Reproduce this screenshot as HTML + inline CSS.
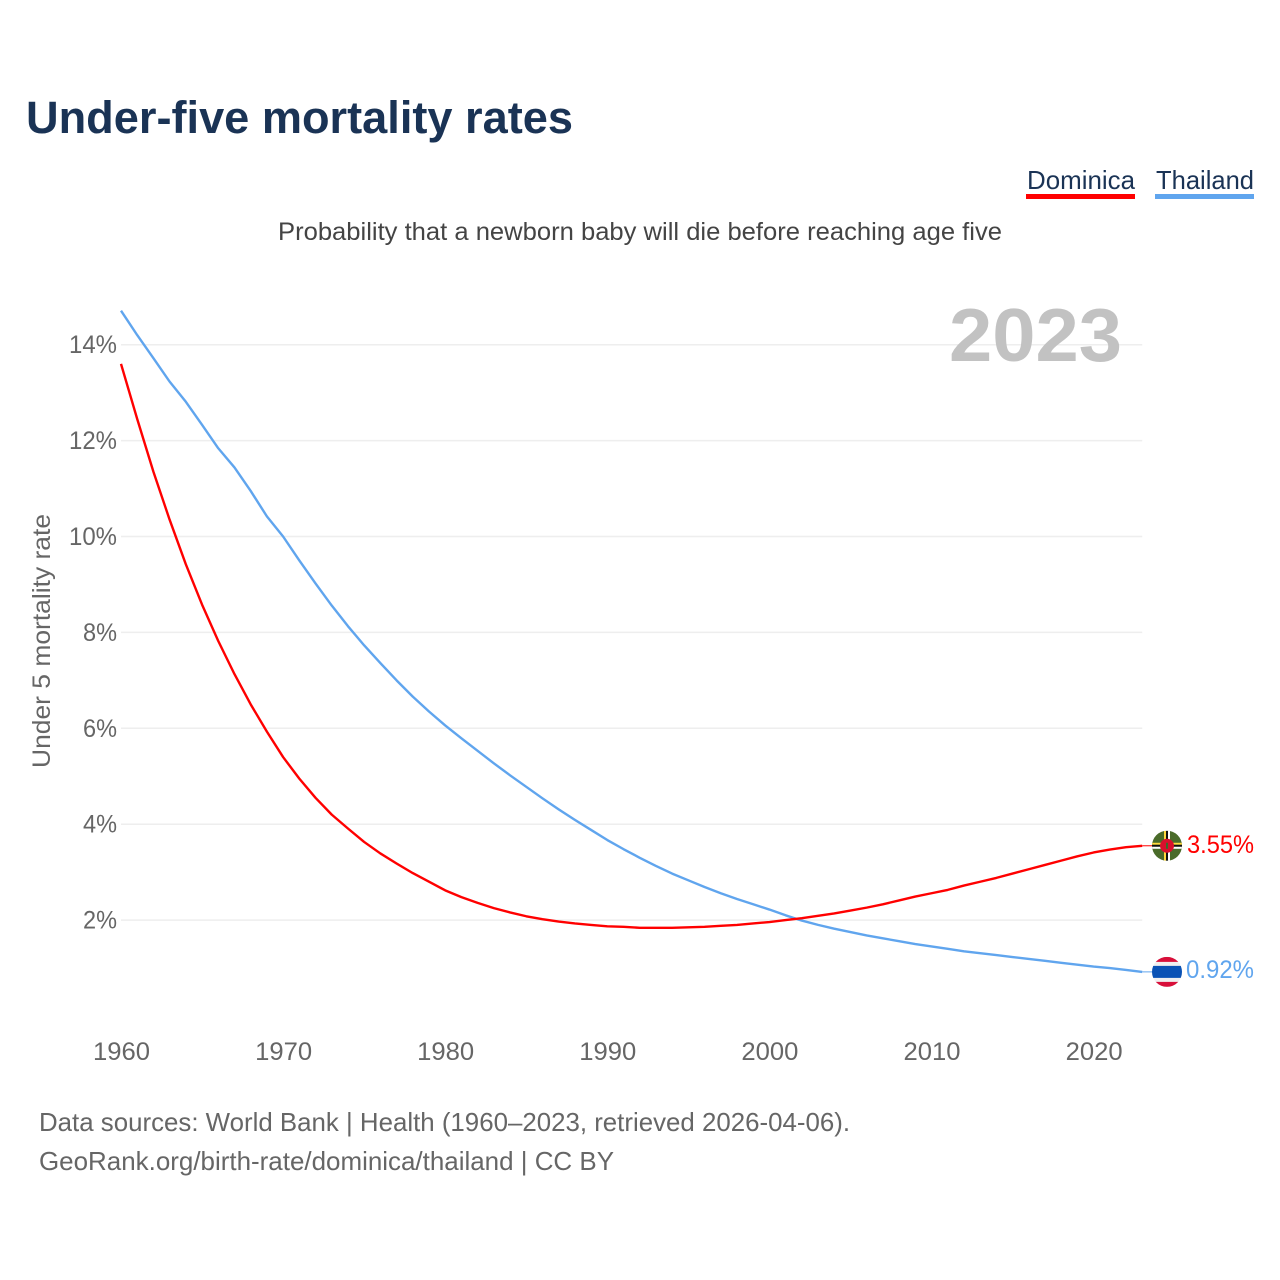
<!DOCTYPE html>
<html lang="en">
<head>
<meta charset="utf-8">
<title>Under-five mortality rates</title>
<style>
html,body{margin:0;padding:0;background:#fff;width:1280px;height:1280px;overflow:hidden}
svg{display:block}
text{font-family:"Liberation Sans",sans-serif}
</style>
</head>
<body>
<svg id="chart" width="1280" height="1280" viewBox="0 0 1280 1280" xmlns="http://www.w3.org/2000/svg">
  <defs>
    <clipPath id="flag-clip"><circle cx="0" cy="0" r="15"></circle></clipPath>
  </defs>
  <rect width="1280" height="1280" fill="#fff"></rect>
  <text x="26" y="133" font-size="45" font-weight="700" fill="#1a3355" textLength="547" lengthAdjust="spacingAndGlyphs">Under-five mortality rates</text>

  <g>
    <text x="1027" y="189" font-size="26" fill="#1a3355" textLength="108" lengthAdjust="spacingAndGlyphs">Dominica</text>
    <rect x="1026" y="194" width="109" height="5" fill="#ff0000"></rect>
  </g>
  <g>
    <text x="1156" y="189" font-size="26" fill="#1a3355" textLength="98" lengthAdjust="spacingAndGlyphs">Thailand</text>
    <rect x="1155" y="194" width="99" height="5" fill="#60a5ee"></rect>
  </g>

  <text x="278" y="240" font-size="25" fill="#444" textLength="724" lengthAdjust="spacingAndGlyphs">Probability that a newborn baby will die before reaching age five</text>

  <g id="grid"></g>
  <text x="949" y="361" font-size="75" font-weight="700" fill="#c2c2c2" textLength="173" lengthAdjust="spacingAndGlyphs">2023</text>
  <g id="y-labels"></g>
  <g id="x-labels"></g>
  <text transform="translate(50,641) rotate(-90)" text-anchor="middle" font-size="25" fill="#666" textLength="254" lengthAdjust="spacingAndGlyphs">Under 5 mortality rate</text>

  <g id="series"></g>

  <g id="flag-dominica">
    <g clip-path="url(#flag-clip)">
      <rect x="-15" y="-15" width="30" height="30" fill="#4a6b2a"></rect>
      <rect x="-3" y="-15" width="2" height="30" fill="#ffd83d"></rect>
      <rect x="-1" y="-15" width="2" height="30" fill="#111"></rect>
      <rect x="1" y="-15" width="2" height="30" fill="#fff"></rect>
      <rect x="-15" y="-3" width="30" height="2" fill="#ffd83d"></rect>
      <rect x="-15" y="-1" width="30" height="2" fill="#111"></rect>
      <rect x="-15" y="1" width="30" height="2" fill="#fff"></rect>
      <circle cx="0" cy="0" r="7" fill="#d8102c"></circle>
      <rect x="-1" y="-3" width="2" height="6" fill="#3a6a2a"></rect>
    </g>
  </g>
  <g id="flag-thailand">
    <g clip-path="url(#flag-clip)">
      <rect x="-15" y="-15" width="30" height="30" fill="#f0f0f0"></rect>
      <rect x="-15" y="-15" width="30" height="5" fill="#d80f3a"></rect>
      <rect x="-15" y="10" width="30" height="5" fill="#d80f3a"></rect>
      <rect x="-15" y="-6" width="30" height="12" fill="#0a52b5"></rect>
    </g>
  </g>
  <text id="value-dominica" x="1187" font-size="25" fill="#ff0000" textLength="67" lengthAdjust="spacingAndGlyphs"></text>
  <text id="value-thailand" x="1186" font-size="25" fill="#60a5ee" textLength="68" lengthAdjust="spacingAndGlyphs"></text>

  <text x="39" y="1131" font-size="26" fill="#666" textLength="811" lengthAdjust="spacingAndGlyphs">Data sources: World Bank | Health (1960–2023, retrieved 2026-04-06).</text>
  <text x="39" y="1170" font-size="26" fill="#666" textLength="575" lengthAdjust="spacingAndGlyphs">GeoRank.org/birth-rate/dominica/thailand | CC BY</text>
</svg>
<script>
const firstYear = 1960;
const xTickYears = [1960, 1970, 1980, 1990, 2000, 2010, 2020];
const yTickValues = [2, 4, 6, 8, 10, 12, 14];
const dominicaValues = [
  13.6, 12.45, 11.35, 10.35, 9.42, 8.58, 7.82, 7.13, 6.5, 5.93,
  5.4, 4.95, 4.55, 4.2, 3.91, 3.63, 3.39, 3.18, 2.98, 2.8,
  2.62, 2.48, 2.36, 2.25, 2.16, 2.08, 2.02, 1.97, 1.93, 1.9,
  1.87, 1.86, 1.84, 1.84, 1.84, 1.85, 1.86, 1.88, 1.9, 1.93,
  1.96, 2.0, 2.04, 2.09, 2.14, 2.2, 2.26, 2.33, 2.41, 2.49,
  2.56, 2.63, 2.72, 2.8, 2.88, 2.97, 3.06, 3.15, 3.24, 3.33,
  3.41, 3.47, 3.52, 3.55
];
const thailandValues = [
  14.71, 14.2, 13.72, 13.23, 12.81, 12.33, 11.84, 11.44, 10.95, 10.42,
  10.0, 9.5, 9.02, 8.56, 8.13, 7.73, 7.36, 7.0, 6.66, 6.35,
  6.06, 5.79, 5.53, 5.27, 5.02, 4.78, 4.54, 4.31, 4.09, 3.88,
  3.67, 3.48, 3.3, 3.13, 2.97, 2.83, 2.69, 2.56, 2.44, 2.33,
  2.22, 2.1, 1.99, 1.9, 1.82, 1.75, 1.68, 1.62, 1.56, 1.5,
  1.45, 1.4, 1.35, 1.31, 1.27, 1.23, 1.19, 1.15, 1.11, 1.07,
  1.03, 1.0, 0.96, 0.92
];

const NS = 'http://www.w3.org/2000/svg';
function xScale(year) { return 121 + (year - 1960) * 16.21; }
function yScale(value) { return 1016 - value * 47.95; }
function make(tag, attrs, parent) {
  const el = document.createElementNS(NS, tag);
  for (const k in attrs) el.setAttribute(k, attrs[k]);
  parent.appendChild(el);
  return el;
}

const grid = document.getElementById('grid');
const yLabels = document.getElementById('y-labels');
yTickValues.forEach(function (v) {
  const line = make('line', { x1: xScale(1960), x2: xScale(2023), y1: yScale(v), y2: yScale(v), stroke: '#eeeeee', 'stroke-width': 1.5 }, grid);
  
  
  const t = make('text', { x: 117, y: yScale(v) + 8.5, 'text-anchor': 'end', 'font-size': 25, fill: '#666', textLength: v >= 10 ? 48 : 34, lengthAdjust: 'spacingAndGlyphs' }, yLabels);
  
  
  t.textContent = v + '%';
});

const xLabels = document.getElementById('x-labels');
xTickYears.forEach(function (y) {
  const t = make('text', { x: xScale(y) + 0.5, y: 1060, 'text-anchor': 'middle', 'font-size': 25, fill: '#666', textLength: 57, lengthAdjust: 'spacingAndGlyphs' }, xLabels);
  
  
  t.textContent = y;
});

function linePath(values) {
  return values.map(function (v, i) {
    return (i ? 'L' : 'M') + xScale(firstYear + i).toFixed(2) + ' ' + yScale(v).toFixed(2);
  }).join(' ');
}

const seriesGroup = document.getElementById('series');

const thaiLine = make('path', { d: linePath(thailandValues), fill: 'none', stroke: '#60a5ee', 'stroke-width': 2.4, 'stroke-linejoin': 'round' }, seriesGroup);



const domLine = make('path', { d: linePath(dominicaValues), fill: 'none', stroke: '#ff0000', 'stroke-width': 2.4, 'stroke-linejoin': 'round' }, seriesGroup);



const domLast = dominicaValues[dominicaValues.length - 1];
const thaiLast = thailandValues[thailandValues.length - 1];

const domLead = make('line', { x1: xScale(2023), x2: 1153, y1: yScale(domLast), y2: yScale(domLast), stroke: '#ff0000', 'stroke-width': 1 }, seriesGroup);



const thaiLead = make('line', { x1: xScale(2023), x2: 1153, y1: yScale(thaiLast), y2: yScale(thaiLast), stroke: '#60a5ee', 'stroke-width': 1 }, seriesGroup);



document.getElementById('flag-dominica').setAttribute('transform', 'translate(1167,' + yScale(domLast) + ')');
document.getElementById('flag-thailand').setAttribute('transform', 'translate(1167,' + yScale(thaiLast) + ')');

const domText = document.getElementById('value-dominica');
domText.setAttribute('y', yScale(domLast) + 7);
domText.textContent = domLast.toFixed(2) + '%';
const thaiText = document.getElementById('value-thailand');
thaiText.setAttribute('y', yScale(thaiLast) + 6);
thaiText.textContent = thaiLast.toFixed(2) + '%';
</script>
</body>
</html>
